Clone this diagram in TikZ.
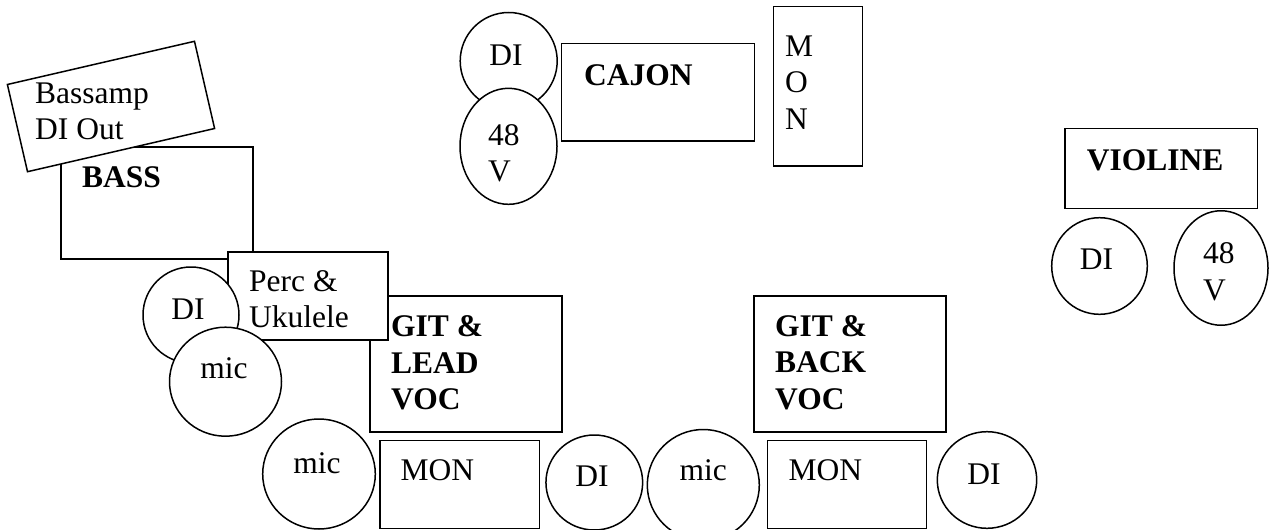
\documentclass[tikz,border=0pt]{standalone}
\usepackage{fontspec}
\setmainfont{Liberation Serif}
\usetikzlibrary{shapes.geometric}
\begin{document}
\begin{tikzpicture}[x=1pt,y=-1pt,
  obj/.style={draw, line width=1.5pt, fill=white, inner sep=0pt},
  box/.style={obj, rectangle},
  ring/.style={obj, ellipse},
  txt/.style={font=\fontsize{31.5}{36.5}\selectfont, inner sep=0pt, anchor=base west, align=left},
  ctxt/.style={txt, anchor=base},
  btxt/.style={txt, font=\fontsize{31.5}{36.5}\selectfont\bfseries}
]
\clip (0,0) rectangle (1269,530);
\fill[white] (0,0) rectangle (1269,530);
% bass area
\node[box, minimum width=192, minimum height=112] (bass) at (157,203) {};
\node[btxt] (bassT) at (82,187) {BASS};
\node[box, minimum width=192, minimum height=89.5, rotate=13] (bassamp) at (111,106.5) {};
\node[txt] (bassampT) at (35,139.5) {Bassamp\\DI Out};
\node[box, minimum width=192, minimum height=136] (gitlead) at (466,364) {};
\node[btxt] (gitleadT) at (391,409.7) {GIT \&\\LEAD\\VOC};
\node[box, minimum width=160, minimum height=88] (perc) at (308,296) {};
\node[txt] (percT) at (249,327.5) {Perc \&\\Ukulele};
\node[ring, minimum width=96, minimum height=96] (diL) at (191,315) {};
\node[ctxt] (diLT) at (188,319) {DI};
\node[ring, minimum width=112, minimum height=109] (micL) at (225.5,381.7) {};
\node[ctxt] (micLT) at (224,378) {mic};
% bottom row
\node[ring, minimum width=112.6, minimum height=110] (micB) at (319,474) {};
\node[ctxt] (micBT) at (317,473.3) {mic};
\node[box, minimum width=159.3, minimum height=87.8] (monL) at (459.65,484.4) {};
\node[txt] (monLT) at (400.5,480) {MON};
\node[ring, minimum width=96.7, minimum height=95] (diM) at (594.3,482.5) {};
\node[ctxt] (diMT) at (592,486.7) {DI};
\node[ring, minimum width=112, minimum height=111] (micM) at (703.3,485) {};
\node[ctxt] (micMT) at (703.3,480) {mic};
\node[box, minimum width=192, minimum height=136] (gitback) at (850,364) {};
\node[btxt] (gitbackT) at (775,409) {GIT \&\\BACK\\VOC};
\node[box, minimum width=159.2, minimum height=87.6] (monR) at (846.9,484.5) {};
\node[txt] (monRT) at (788.3,480) {MON};
\node[ring, minimum width=99.4, minimum height=96.6] (diR) at (987,480) {};
\node[ctxt] (diRT) at (984,484) {DI};
% top middle
\node[ring, minimum width=97, minimum height=97] (diTop) at (508.7,61) {};
\node[ctxt] (diTopT) at (506,65) {DI};
\node[ring, minimum width=97, minimum height=116] (vTop) at (508.5,146.3) {};
\node[txt] (vTopT) at (488,181.7) {48\\V};
\node[box, minimum width=192.6, minimum height=97.7] (cajon) at (658,92.15) {};
\node[btxt] (cajonT) at (584,85) {CAJON};
\node[box, minimum width=89.4, minimum height=159.3] (monV) at (818,86.35) {};
\node[txt] (monVT) at (785,129) {M\\O\\N};
% violine
\node[box, minimum width=192.7, minimum height=80] (violine) at (1161.35,168.3) {};
\node[btxt] (violineT) at (1086.7,170) {VIOLINE};
\node[ring, minimum width=95.6, minimum height=96.6] (diV) at (1099.5,266) {};
\node[ctxt] (diVT) at (1096.5,269.3) {DI};
\node[ring, minimum width=94, minimum height=114.5] (vV) at (1221,268) {};
\node[txt] (vVT) at (1203,300) {48\\V};
\end{tikzpicture}
\end{document}
